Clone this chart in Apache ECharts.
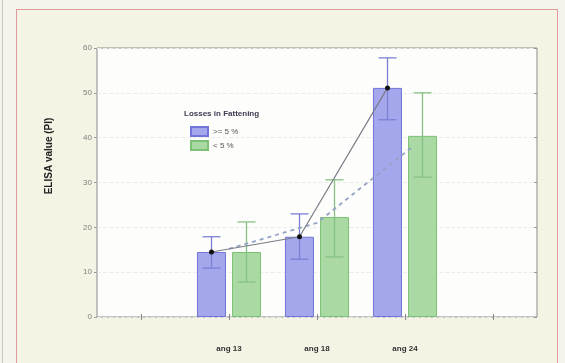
<!DOCTYPE html>
<html>
<head>
<meta charset="utf-8">
<script src="https://cdn.jsdelivr.net/npm/echarts@6/dist/echarts.min.js"></script>
<style>
    html, body { margin: 0; padding: 0; background: #f4f3ec; }
    #wrap { position: relative; width: 565px; height: 363px; overflow: hidden; }
    #frame { position: absolute; left: 16px; top: 9px; width: 540px; height: 370px;
             background: #f5f3e4; border: 1px solid #e09a9a; }
    #edge { position: absolute; left: 2px; top: 0; width: 1px; height: 363px; background: #c8c8c4; }
    #main { position: absolute; left: 0; top: 0; width: 565px; height: 363px; }
</style>
</head>
<body>
<div id="wrap">
    <div id="edge"></div>
    <div id="frame"></div>
    <div id="main"></div>
</div>
<script>
// 数据
var categories = ['', 'ang 13', 'ang 18', 'ang 24', ''];
var seriesNames = ['>= 5 %', '< 5 %'];
var highMean = ['-', 14.5, 17.9, 51.1, '-'];
var highLow = [10.9, 12.9, 44.0];
var highHigh = [17.9, 23.0, 57.8];
var lowMean = ['-', 14.5, 22.3, 40.4, '-'];
var lowLow = [7.8, 13.4, 31.2];
var lowHigh = [21.2, 30.6, 50.0];
// 虚线（< 5 %）的折线点
var lowLine = [15.2, 21.0, 38.2];
var yTicks = [0, 10, 20, 30, 40, 50, 60];

var BAR_W = 29;
var BAR_OFF = 17.5;

function errData(lo, hi) {
    var arr = [];
    for (var i = 0; i < lo.length; i++) {
        arr.push([i + 1, lo[i], hi[i]]);
    }
    return arr;
}

function errRender(offset, color) {
    return function (params, api) {
        var c = api.value(0);
        var p1 = api.coord([c, api.value(1)]);
        var p2 = api.coord([c, api.value(2)]);
        var x = p1[0] + offset;
        var cap = 9;
        var st = { stroke: color, lineWidth: 1.3 };
        return {
            type: 'group',
            children: [
                { type: 'line', shape: { x1: x, y1: p1[1], x2: x, y2: p2[1] }, style: st },
                { type: 'line', shape: { x1: x - cap, y1: p1[1], x2: x + cap, y2: p1[1] }, style: st },
                { type: 'line', shape: { x1: x - cap, y1: p2[1], x2: x + cap, y2: p2[1] }, style: st }
            ]
        };
    };
}

// 折线点放在柱子中心
var solidPts = [];
var dashPts = [];
for (var i = 1; i <= 3; i++) {
    solidPts.push([i + 0.5 - BAR_OFF / 88, highMean[i]]);
    dashPts.push([i + 0.5 + (i == 3 ? 0.1 : 0), lowLine[i - 1]]);
}

var dom = document.getElementById('main');
var myChart = echarts.init(dom, null, { renderer: 'canvas' });
var option = {
    backgroundColor: 'transparent',
    animation: false,
    grid: {
        left: 97, top: 48, width: 440, height: 269,
        show: true,
        backgroundColor: '#fdfdfb',
        borderColor: '#8c8c8c',
        borderWidth: 1
    },
    legend: {
        data: seriesNames,
        orient: 'vertical',
        left: 185,
        top: 121,
        itemWidth: 17,
        itemHeight: 9,
        itemGap: 3,
        icon: 'rect',
        textStyle: { fontSize: 8, color: '#555', fontFamily: 'Liberation Sans' }
    },
    graphic: [
        {
            type: 'text',
            left: 184,
            top: 110,
            z: 100,
            style: { text: 'Losses in Fattening', fontSize: 8, fontWeight: 'bold', fill: '#3a3a50', fontFamily: 'Liberation Sans' }
        },
        {
            type: 'text',
            x: 49,
            y: 156,
            rotation: Math.PI / 2,
            z: 100,
            style: {
                text: 'ELISA value (PI)', fontSize: 10, fontWeight: 'bold', fill: '#222',
                fontFamily: 'Liberation Sans', align: 'center', verticalAlign: 'middle'
            }
        }
    ],
    xAxis: [
        {
            type: 'category',
            data: categories,
            axisLine: { show: false },
            axisTick: { show: true, inside: true, alignWithLabel: true, length: 3, lineStyle: { color: '#888' } },
            axisLabel: { margin: 28, fontSize: 8, fontWeight: 'bold', color: '#333', fontFamily: 'Liberation Sans' }
        },
        {
            type: 'category',
            position: 'top',
            data: categories,
            axisLine: { show: false },
            axisTick: { show: true, inside: true, alignWithLabel: true, length: 3, lineStyle: { color: '#888' } },
            axisLabel: { show: false }
        },
        {
            type: 'value',
            min: 0,
            max: 5,
            show: false
        }
    ],
    yAxis: [
        {
            type: 'value',
            min: yTicks[0],
            max: yTicks[yTicks.length - 1],
            interval: 10,
            axisLine: { show: false },
            axisTick: { show: true, length: 3, lineStyle: { color: '#999' } },
            axisLabel: { margin: 5, fontSize: 8, color: '#808080', fontFamily: 'Liberation Sans' },
            splitLine: { show: true, lineStyle: { color: '#ececec', type: 'dashed', width: 1 } }
        },
        {
            type: 'value',
            position: 'right',
            min: yTicks[0],
            max: yTicks[yTicks.length - 1],
            interval: 10,
            axisLine: { show: false },
            axisTick: { show: true, inside: true, length: 3, lineStyle: { color: '#999' } },
            axisLabel: { show: false },
            splitLine: { show: false }
        }
    ],
    series: [
        {
            name: seriesNames[0],
            type: 'bar',
            data: highMean,
            barWidth: BAR_W,
            barGap: '21%',
            itemStyle: { color: '#a4a7ec', borderColor: '#7075d8', borderWidth: 1 }
        },
        {
            name: seriesNames[1],
            type: 'bar',
            data: lowMean,
            barWidth: BAR_W,
            barGap: '21%',
            itemStyle: { color: '#aad9a4', borderColor: '#7cc276', borderWidth: 1 }
        },
        {
            type: 'custom',
            data: errData(highLow, highHigh),
            renderItem: errRender(-BAR_OFF, '#7b80d6'),
            z: 5
        },
        {
            type: 'custom',
            data: errData(lowLow, lowHigh),
            renderItem: errRender(BAR_OFF, '#86c184'),
            z: 5
        },
        {
            type: 'line',
            xAxisIndex: 2,
            data: dashPts,
            symbol: 'none',
            lineStyle: { color: '#94a2c4', width: 1.8, type: [4, 4] },
            z: 6
        },
        {
            type: 'line',
            xAxisIndex: 2,
            data: solidPts,
            symbol: 'circle',
            symbolSize: 5,
            itemStyle: { color: '#111' },
            lineStyle: { color: '#7c7c88', width: 1.2 },
            z: 7
        }
    ]
};
if (option && typeof option === "object") {
    myChart.setOption(option, true);
}
</script>
</body>
</html>
